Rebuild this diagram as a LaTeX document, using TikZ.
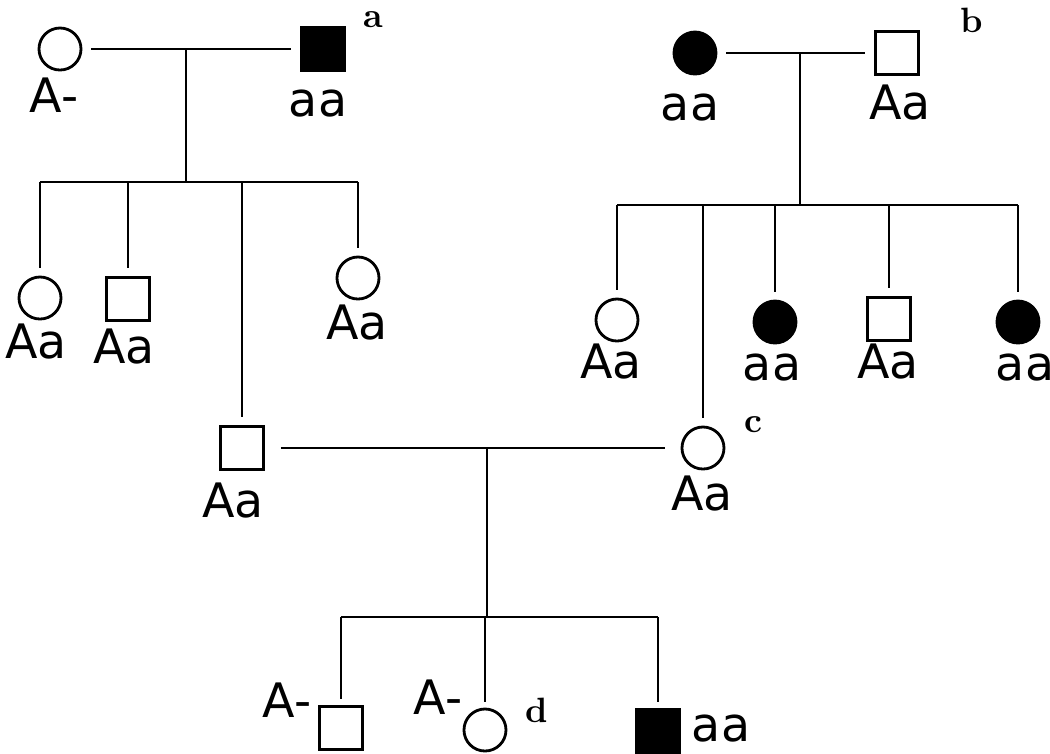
\documentclass[tikz,border=0pt]{standalone}
\usepackage{fontspec}
\newfontfamily\maofont{DejaVu Sans}
\begin{document}
\begin{tikzpicture}[x=0.01cm,y=-0.01cm,line width=0.8pt,
    fem/.style={circle,draw,inner sep=0pt,minimum size=0.42cm},
    masc/.style={rectangle,draw,inner sep=0pt,minimum size=0.43cm},
    afet/.style={fill=black},
    gen/.style={font=\maofont\fontsize{13.5}{16}\selectfont,inner sep=0pt},
    letra/.style={font=\bfseries\fontsize{10}{12}\selectfont,inner sep=0pt},
    casal/.style={shorten <=0.09cm,shorten >=0.09cm},
    desce/.style={shorten >=0.08cm}]
        \useasboundingbox (0,0) rectangle (1050,753);

        % Geração I (famílias a e b)
        \node[fem] (pA) at (60,49) {};
        \node[masc,afet] (mA) at (323,49) {};
        \node[fem,afet] (mB) at (695,53) {};
        \node[masc] (pB) at (897,53) {};

        % Geração II
        \node[fem] (a1) at (40,298) {};
        \node[masc] (a2) at (128,299) {};
        \node[fem] (a4) at (358,278) {};
        \node[fem] (b1) at (617,320) {};
        \node[fem,afet] (b3) at (775,322) {};
        \node[masc] (b4) at (889,319) {};
        \node[fem,afet] (b5) at (1018,322) {};

        % Geração III
        \node[masc] (a3) at (242,448) {};
        \node[fem] (b2) at (703,448) {};

        % Geração IV
        \node[masc] (d1) at (341,728) {};
        \node[fem] (d2) at (485,730) {};
        \node[masc,afet] (d3) at (658,731) {};

        % Pontos de união
        \coordinate (uA) at (186,49);
        \coordinate (iA) at (186,182);
        \coordinate (uB) at (800,53);
        \coordinate (iB) at (800,205);
        \coordinate (uC) at (487,448);
        \coordinate (iC) at (487,617);

        % Casais
        \draw[casal] (pA) -- (mA);
        \draw[casal] (mB) -- (pB);
        \draw[shorten <=0.16cm,shorten >=0.16cm] (a3) -- (b2);

        % Filhos
        \draw (uA) -- (iA);
        \draw (iA -| a1) -- (iA -| a4);
        \foreach \f in {a1,a2,a3,a4}
            \draw[desce] (iA -| \f) -- (\f);

        \draw (uB) -- (iB);
        \draw (iB -| b1) -- (iB -| b5);
        \foreach \f in {b1,b2,b3,b4,b5}
            \draw[desce] (iB -| \f) -- (\f);

        \draw (uC) -- (iC);
        \draw (iC -| d1) -- (iC -| d3);
        \foreach \f in {d1,d2,d3}
            \draw[shorten >=0.06cm] (iC -| \f) -- (\f);

        % Genótipos
        \node[gen] (gpA) at (54,95) {A-};
        \node[gen] (gmA) at (318,104) {aa};
        \node[gen] (gmB) at (690,108) {aa};
        \node[gen] (gpB) at (900,103) {Aa};
        \node[gen] (ga1) at (36,342) {Aa};
        \node[gen] (ga2) at (124,347) {Aa};
        \node[gen] (ga4) at (357,323) {Aa};
        \node[gen] (gb1) at (611,362) {Aa};
        \node[gen] (gb3) at (772,368) {aa};
        \node[gen] (gb4) at (888,362) {Aa};
        \node[gen] (gb5) at (1025,368) {aa};
        \node[gen] (ga3) at (233,501) {Aa};
        \node[gen] (gb2) at (702,494) {Aa};
        \node[gen] (gd1) at (287,700) {A-};
        \node[gen] (gd2) at (438,697) {A-};
        \node[gen] (gd3) at (721,729) {aa};

        % Letras
        \node[letra] (la) at (373,20) {a};
        \node[letra] (lb) at (972,20) {b};
        \node[letra] (lc) at (753,425) {c};
        \node[letra] (ld) at (537,710) {d};
    \end{tikzpicture}
\end{document}
